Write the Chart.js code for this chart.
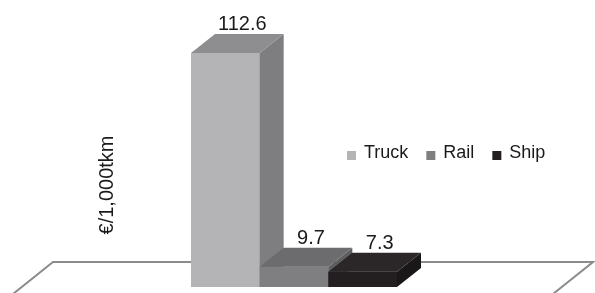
<!DOCTYPE html>
<html>
<head>
<meta charset="utf-8">
<script src="https://cdn.jsdelivr.net/npm/chart.js@4.4.1/dist/chart.umd.min.js"></script>
<style>
  html, body { margin: 0; padding: 0; background: #fff; }
  #wrap { width: 595px; height: 293px; position: relative; }
</style>
</head>
<body>
<div id="wrap"><canvas id="chart"></canvas></div>
<script>
const categories = ["Cost"];
const seriesNames = ["Truck", "Rail", "Ship"];
const seriesValues = [[112.6], [9.7], [7.3]];
const axisTitle = "€/1,000tkm";

// front, top, side shades per series
const frontColors = ["#b4b4b7", "#7f7f82", "#231f20"];
const topColors = ["#8e8e91", "#6c6c6e", "#2b2728"];
const sideColors = ["#7e7e81", "#5f5f62", "#1a1718"];

const depthX = 24;
const depthY = 19;

const floorPlugin = {
  id: "floor",
  beforeDatasetsDraw(chart) {
    const ctx = chart.ctx;
    const area = chart.chartArea;
    const y0 = chart.scales.y.getPixelForValue(0) - 25;
    const slope = 1.25;
    const h = chart.height - y0 + 10;
    ctx.save();
    ctx.strokeStyle = "#8c8c8c";
    ctx.lineWidth = 2;
    ctx.beginPath();
    ctx.moveTo(area.left - h * slope, y0 + h);
    ctx.lineTo(area.left, y0);
    ctx.lineTo(chart.width - 2, y0);
    ctx.lineTo(chart.width - 2 - h * slope, y0 + h);
    ctx.stroke();
    ctx.restore();
  }
};

// redraw the boxes left to right so each bar's front hides the previous one's side
const boxPlugin = {
  id: "box3d",
  afterDatasetsDraw(chart) {
    const ctx = chart.ctx;
    chart.data.datasets.forEach((ds, i) => {
      const meta = chart.getDatasetMeta(i);
      meta.data.forEach((el) => {
        el.draw(ctx, chart.chartArea);
        const left = el.x - el.width / 2;
        const right = el.x + el.width / 2;
        const top = el.y;
        const base = el.base;
        ctx.save();
        ctx.fillStyle = sideColors[i];
        ctx.beginPath();
        ctx.moveTo(right, top);
        ctx.lineTo(right + depthX, top - depthY);
        ctx.lineTo(right + depthX, base - depthY);
        ctx.lineTo(right, base);
        ctx.closePath();
        ctx.fill();
        ctx.fillStyle = topColors[i];
        ctx.beginPath();
        ctx.moveTo(left, top);
        ctx.lineTo(left + depthX, top - depthY);
        ctx.lineTo(right + depthX, top - depthY);
        ctx.lineTo(right, top);
        ctx.closePath();
        ctx.fill();
        ctx.restore();
      });
    });

    ctx.save();
    ctx.fillStyle = "#1a1a1a";
    ctx.font = "20px 'Liberation Sans'";
    ctx.textAlign = "center";
    ctx.textBaseline = "alphabetic";
    chart.data.datasets.forEach((ds, i) => {
      const meta = chart.getDatasetMeta(i);
      meta.data.forEach((el, j) => {
        ctx.fillText(String(ds.data[j]), el.x + depthX / 2 + 5, el.y - depthY - 4);
      });
    });

    // axis title
    ctx.save();
    ctx.translate(113, 185);
    ctx.rotate(-Math.PI / 2);
    ctx.font = "20px 'Liberation Sans'";
    ctx.textAlign = "center";
    ctx.fillText(axisTitle, 0, 0);
    ctx.restore();

    // legend
    ctx.font = "18px 'Liberation Sans'";
    ctx.textAlign = "left";
    let lx = 347;
    const ly = 158;
    chart.data.datasets.forEach((ds, i) => {
      ctx.fillStyle = frontColors[i];
      ctx.fillRect(lx, ly - 7, 9, 9);
      ctx.fillStyle = "#1a1a1a";
      ctx.fillText(ds.label, lx + 17, ly);
      lx += 17 + ctx.measureText(ds.label).width + 18;
    });
    ctx.restore();
  }
};

new Chart(document.getElementById("chart"), {
  type: "bar",
  data: {
    labels: categories,
    datasets: seriesNames.map((name, i) => ({
      label: name,
      data: seriesValues[i],
      backgroundColor: frontColors[i],
      borderWidth: 0
    }))
  },
  options: {
    responsive: true,
    maintainAspectRatio: false,
    devicePixelRatio: 1,
    animation: false,
    events: [],
    layout: { padding: { left: 53, right: 60, top: 21, bottom: 6 } },
    datasets: { bar: { barPercentage: 1, categoryPercentage: 0.4274 } },
    scales: {
      x: { display: false },
      y: { display: false, min: 0, max: 128 }
    },
    plugins: {
      legend: { display: false },
      tooltip: { enabled: false }
    }
  },
  plugins: [floorPlugin, boxPlugin]
});
</script>
</body>
</html>
